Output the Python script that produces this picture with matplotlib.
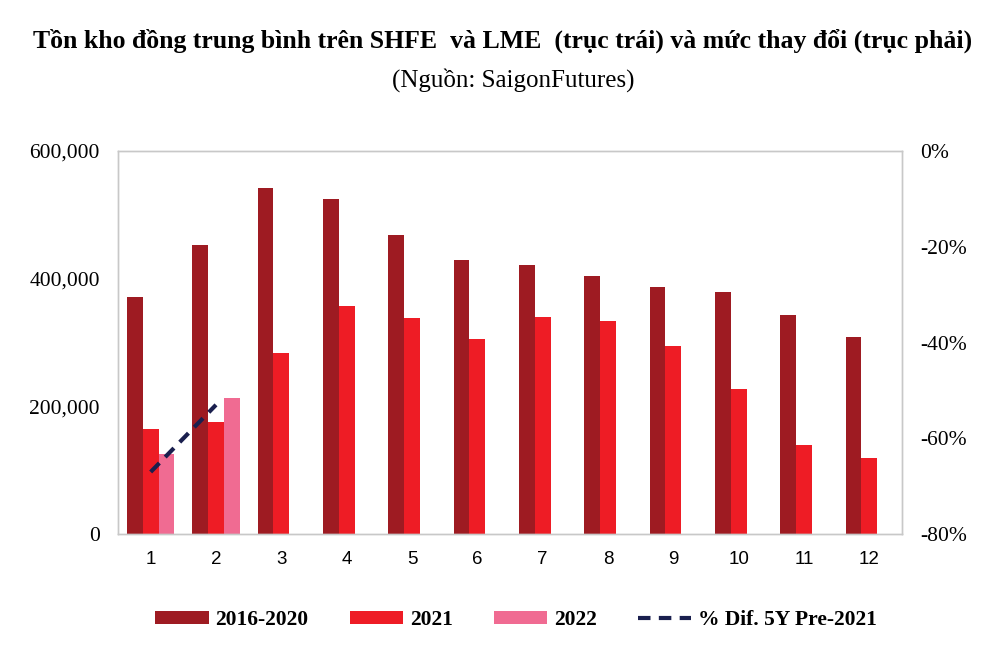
import matplotlib.pyplot as plt
import matplotlib.ticker as mticker
import numpy as np

# --- Data ---
months = [1, 2, 3, 4, 5, 6, 7, 8, 9, 10, 11, 12]
avg_2016_2020 = [372000, 453000, 542000, 525000, 468000, 429000, 421000, 404000, 387000, 379000, 343000, 309000]
stock_2021 = [164000, 175000, 283000, 357000, 338000, 305000, 340000, 334000, 295000, 227000, 139000, 120000]
stock_2022 = [125000, 213000]
pct_months = [1, 2]
pct_dif = [-0.67, -0.53]

# --- Style ---
c_dark = '#9E1B22'
c_red = '#EE1C25'
c_pink = '#F06B92'
c_line = '#1A1F4E'
serif = 'Liberation Serif'
sans = 'Liberation Sans'

fig = plt.figure(figsize=(10, 6.5), dpi=100)
ax = fig.add_axes([0.118, 0.178, 0.784, 0.590])
ax2 = ax.twinx()

x = np.array(months)
w = 0.24
ax.bar(x - w, avg_2016_2020, width=w, color=c_dark, label='2016-2020')
ax.bar(x, stock_2021, width=w, color=c_red, label='2021')
ax.bar(np.array(months[:len(stock_2022)]) + w, stock_2022, width=w, color=c_pink, label='2022')
ax2.plot(pct_months, pct_dif, color=c_line, lw=3, ls=(0, (3, 2)), label='% Dif. 5Y Pre-2021')

ax.set_xlim(0.5, 12.5)
ax.set_ylim(0, 600000)
ax.set_yticks([0, 200000, 400000, 600000])
ax.yaxis.set_major_formatter(mticker.FuncFormatter(lambda v, p: f'{int(v):,}'))
ax.set_xticks(months)
ax.set_xticklabels([str(m) for m in months], family=sans, fontsize=13.5)
for t in ax.get_yticklabels():
    t.set_family(serif)
    t.set_fontsize(15.5)

ax2.set_ylim(-0.8, 0)
ax2.set_yticks([-0.8, -0.6, -0.4, -0.2, 0])
ax2.yaxis.set_major_formatter(mticker.FuncFormatter(lambda v, p: f'{v * 100:.0f}%'))
for t in ax2.get_yticklabels():
    t.set_family(serif)
    t.set_fontsize(15.5)

for a in (ax, ax2):
    a.tick_params(length=0)
    for s in a.spines.values():
        s.set_color('#C8C8C8')
        s.set_linewidth(1)
ax.tick_params(axis='y', pad=13)
ax.tick_params(axis='x', pad=12)
ax2.tick_params(axis='y', pad=13)

# Title
fig.text(0.503, 0.938, 'Tồn kho đồng trung bình trên SHFE  và LME  (trục trái) và mức thay đổi (trục phải)',
         ha='center', va='center', family=serif, fontweight='bold', fontsize=18.5)
fig.text(0.513, 0.877, '(Nguồn: SaigonFutures)', ha='center', va='center', family=serif, fontsize=18)

# Legend
h1, l1 = ax.get_legend_handles_labels()
h2, l2 = ax2.get_legend_handles_labels()
fig.legend(h1 + h2, l1 + l2, loc='center', bbox_to_anchor=(0.516, 0.046), ncol=4, frameon=False,
           prop={'family': serif, 'weight': 'bold', 'size': 15.5}, handlelength=2.5, handleheight=0.55,
           columnspacing=1.9, handletextpad=0.3)

fig.savefig('out.png', dpi=100)
